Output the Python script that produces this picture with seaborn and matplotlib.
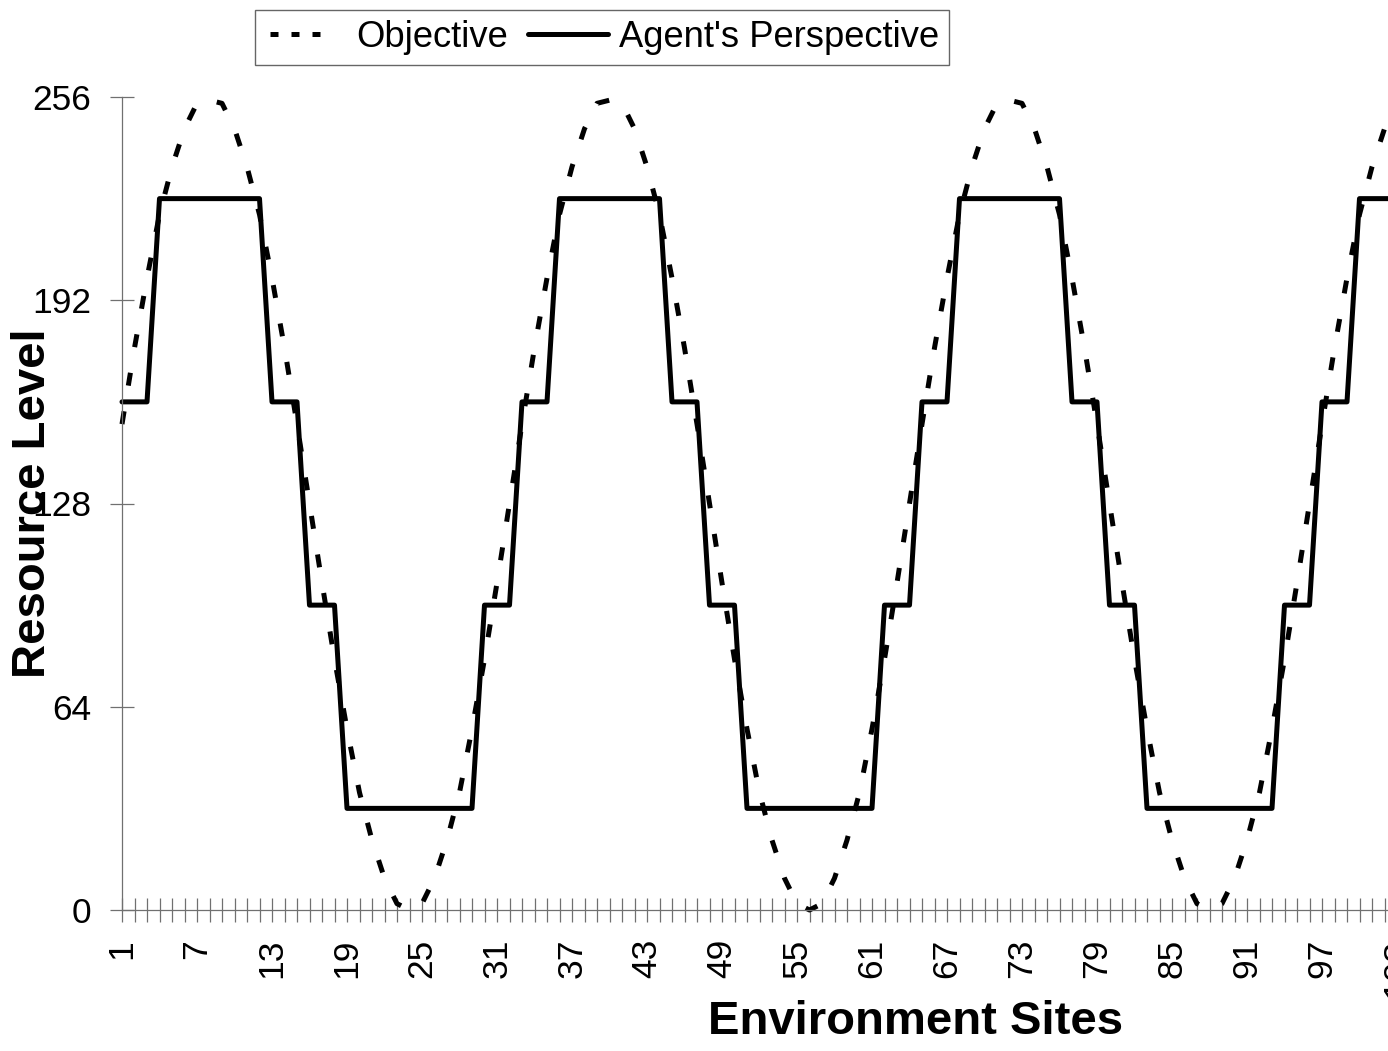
import pandas as pd
import seaborn as sns
import matplotlib.pyplot as plt
from matplotlib.lines import Line2D

# sites shown on the x axis (chart is cropped on the right, axis runs to 128)
sites = list(range(1, 105))

# Objective resource level per site
objective = [
    153, 177, 199, 219, 234, 246, 254, 255, 254, 246, 234, 219, 199, 177, 153, 128,
    103, 79, 57, 37, 22, 10, 2, 0, 2, 10, 22, 37, 57, 79, 103, 128,
    153, 177, 199, 219, 234, 246, 254, 255, 254, 246, 234, 219, 199, 177, 153, 128,
    103, 79, 57, 37, 22, 10, 2, 0, 2, 10, 22, 37, 57, 79, 103, 128,
    153, 177, 199, 219, 234, 246, 254, 255, 254, 246, 234, 219, 199, 177, 153, 128,
    103, 79, 57, 37, 22, 10, 2, 0, 2, 10, 22, 37, 57, 79, 103, 128,
    153, 177, 199, 219, 234, 246, 254, 255,
]

# Agent's quantised view of the same sites
agent = [
    160, 160, 160, 224, 224, 224, 224, 224, 224, 224, 224, 224, 160, 160, 160, 96,
    96, 96, 32, 32, 32, 32, 32, 32, 32, 32, 32, 32, 32, 96, 96, 96,
    160, 160, 160, 224, 224, 224, 224, 224, 224, 224, 224, 224, 160, 160, 160, 96,
    96, 96, 32, 32, 32, 32, 32, 32, 32, 32, 32, 32, 32, 96, 96, 96,
    160, 160, 160, 224, 224, 224, 224, 224, 224, 224, 224, 224, 160, 160, 160, 96,
    96, 96, 32, 32, 32, 32, 32, 32, 32, 32, 32, 32, 32, 96, 96, 96,
    160, 160, 160, 224, 224, 224, 224, 224,
]

y_ticks = [0, 64, 128, 192, 256]
x_max = 128

df = pd.DataFrame({'site': sites, 'Objective': objective, "Agent's Perspective": agent})

sns.set_style('white')
plt.rcParams['font.family'] = ['Liberation Sans', 'DejaVu Sans']
plt.rcParams['text.color'] = 'black'
plt.rcParams['axes.labelcolor'] = 'black'

fig = plt.figure(figsize=(13.88, 10.51), dpi=100)
W, H = 1388, 1051
left, right, top, bottom = 122, 1709.5, 97, 910
ax = fig.add_axes([left / W, (H - bottom) / H, (right - left) / W, (bottom - top) / H])

lw = 3.6
sns.lineplot(data=df, x='site', y='Objective', ax=ax, color='black', lw=lw,
             legend=False, clip_on=False)
sns.lineplot(data=df, x='site', y="Agent's Perspective", ax=ax, color='black', lw=lw,
             legend=False, clip_on=False)
ax.lines[0].set_dashes((2.6, 5.2))
ax.lines[0].set_dash_capstyle('butt')

ax.set_xlim(1, x_max)
ax.set_ylim(0, 256)

# tick marks on every site, labels every 6th
xt = list(range(1, x_max + 1))
ax.set_xticks(xt)
ax.set_xticklabels([str(v) if (v - 1) % 6 == 0 else '' for v in xt], rotation=90)
ax.set_yticks(y_ticks)
ax.set_yticklabels([str(v) for v in y_ticks])

grey = '#707070'
ax.tick_params(axis='both', direction='inout', length=16.6, width=0.9, color=grey,
               labelsize=25.5, labelcolor='black', bottom=True, left=True)
ax.tick_params(axis='y', pad=14)
ax.tick_params(axis='x', pad=12.5)

for s in ['top', 'right']:
    ax.spines[s].set_visible(False)
for s in ['left', 'bottom']:
    ax.spines[s].set_color(grey)
    ax.spines[s].set_linewidth(0.9)

ax.set_xlabel('Environment Sites', fontsize=34, fontweight='bold', color='black')
ax.set_ylabel('Resource Level', fontsize=34, fontweight='bold', color='black')
ax.xaxis.set_label_coords(0.5, -0.111)
ax.yaxis.set_label_coords(-0.042, 0.5)

# legend sample: three short dashes, like the original
handles = [
    Line2D([], [], color='black', lw=lw, linestyle=(17, (1.6, 2.6, 1.6, 2.6, 1.6, 8))),
    Line2D([], [], color='black', lw=lw),
]
leg = fig.legend(handles, ['Objective', "Agent's Perspective"], loc='upper left',
                 bbox_to_anchor=(255 / W, 1 - 10 / H), ncol=2, fontsize=26.2,
                 frameon=True, fancybox=False, shadow=False, borderpad=0.28,
                 handlelength=2.2, handletextpad=0.3, columnspacing=0.55,
                 borderaxespad=0)
leg.get_frame().set_edgecolor('#404040')
leg.get_frame().set_linewidth(1.0)
for t in leg.get_texts():
    t.set_color('black')

fig.savefig('out.png', dpi=100)
